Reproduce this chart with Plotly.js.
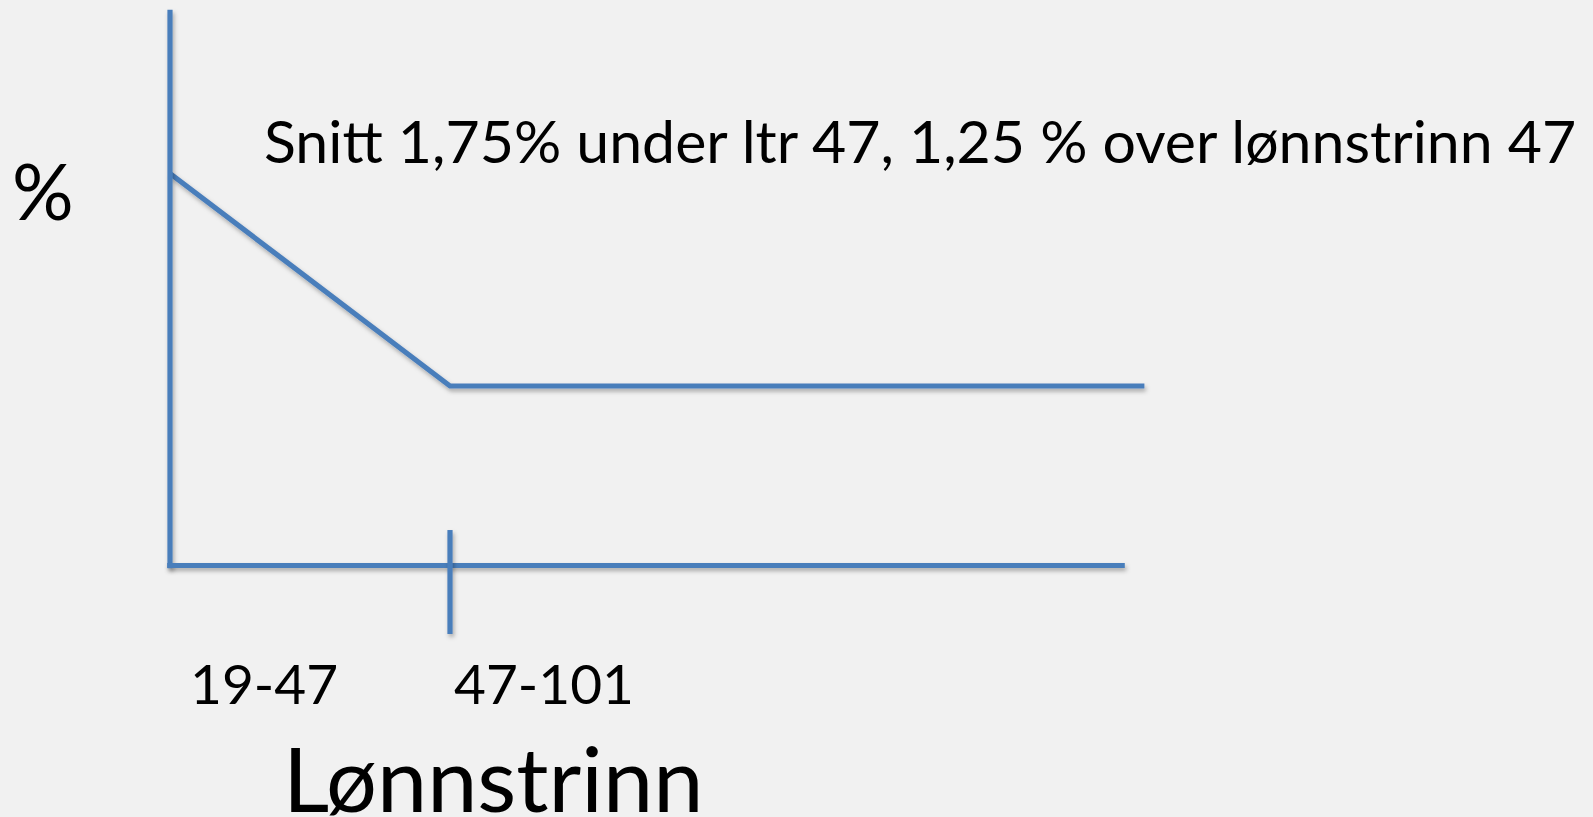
<!DOCTYPE html>
<html>
<head>
<meta charset="utf-8">
<script src="https://cdn.plot.ly/plotly-3.0.1.min.js"></script>
<style>
  html, body { margin: 0; padding: 0; background: #f1f1f1; }
  #chart { width: 1593px; height: 817px; }
</style>
</head>
<body>
<div id="chart"></div>
<script>
// ---- data ----
const segmentLabels = ["19-47", "47-101"];
const segmentLabelPos = [0.335, 1.335];       // x (segment units) of each label centre
const lineX = [0, 1, 3.48];                    // 0 = lønnstrinn 19, 1 = lønnstrinn 47
const lineY = [2.73, 1.25, 1.25];              // % (schematic)
const noteText = "Snitt 1,75% under ltr 47, 1,25 % over lønnstrinn 47";
const xAxisTitle = "Lønnstrinn";
const yAxisTitle = "%";
const xAxisEnd = 3.41;
const yAxisTop = 3.87;
const splitAt = 1;

const blue = "#4a7ebb";
const font = "Lato, 'Open Sans', sans-serif";

const trace = {
  x: lineX, y: lineY, type: "scatter", mode: "lines",
  line: { color: blue, width: 5.2 }, hoverinfo: "skip", showlegend: false
};

const shapes = [
  { type: "line", xref: "x", yref: "y", x0: 0, x1: 0, y0: -0.02, y1: yAxisTop, line: { color: blue, width: 5.2 } },
  { type: "line", xref: "x", yref: "y", x0: -0.01, x1: xAxisEnd, y0: 0, y1: 0, line: { color: blue, width: 5.2 } },
  { type: "line", xref: "x", yref: "y", x0: splitAt, x1: splitAt, y0: -0.477, y1: 0.247, line: { color: blue, width: 5.2 } }
];

const W = 1593, H = 817;
const annotations = [
  { text: noteText, xref: "paper", yref: "paper", x: 262 / W, y: 1 - 140 / H, xanchor: "left", yanchor: "middle",
    showarrow: false, font: { family: font, size: 59, color: "#000" } },
  { text: yAxisTitle, xref: "paper", yref: "paper", x: 10 / W, y: 1 - 190 / H, xanchor: "left", yanchor: "middle",
    showarrow: false, font: { family: font, size: 77, color: "#000" } },
  { text: xAxisTitle, xref: "paper", yref: "paper", x: 281 / W, y: 1 - 777 / H, xanchor: "left", yanchor: "middle",
    showarrow: false, font: { family: font, size: 90, color: "#000" } }
].concat(segmentLabels.map((t, i) => ({
  text: t, xref: "x", yref: "paper", x: segmentLabelPos[i], y: 1 - 683 / H, xanchor: "center", yanchor: "middle",
  showarrow: false, font: { family: font, size: 55, color: "#000" }
})));

const layout = {
  width: W, height: H,
  margin: { l: 0, r: 0, t: 0, b: 0, pad: 0 },
  paper_bgcolor: "#f1f1f1", plot_bgcolor: "#f1f1f1",
  xaxis: { range: [-170 / 280, (W - 170) / 280], visible: false, fixedrange: true },
  yaxis: { range: [-(H - 565.5) / 143.6, 565.5 / 143.6], visible: false, fixedrange: true },
  shapes: shapes,
  annotations: annotations,
  showlegend: false
};

Plotly.newPlot("chart", [trace], layout, { displayModeBar: false, staticPlot: true }).then(function (gd) {
  // soft drop shadow like the original slide's lines
  const svg = gd.querySelector("svg.main-svg");
  const NS = "http://www.w3.org/2000/svg";
  let defs = svg.querySelector("defs");
  if (!defs) { defs = document.createElementNS(NS, "defs"); svg.insertBefore(defs, svg.firstChild); }
  const f = document.createElementNS(NS, "filter");
  f.setAttribute("id", "softshadow");
  f.setAttribute("filterUnits", "userSpaceOnUse");
  f.setAttribute("x", "-500"); f.setAttribute("y", "-500");
  f.setAttribute("width", "3000"); f.setAttribute("height", "2000");
  const ds = document.createElementNS(NS, "feDropShadow");
  ds.setAttribute("dx", "1.5"); ds.setAttribute("dy", "3");
  ds.setAttribute("stdDeviation", "2");
  ds.setAttribute("flood-color", "#000"); ds.setAttribute("flood-opacity", "0.3");
  f.appendChild(ds);
  defs.appendChild(f);
  gd.querySelectorAll(".scatterlayer .js-line, .shapelayer path").forEach(function (el) {
    el.setAttribute("filter", "url(#softshadow)");
  });
});
</script>
</body>
</html>
